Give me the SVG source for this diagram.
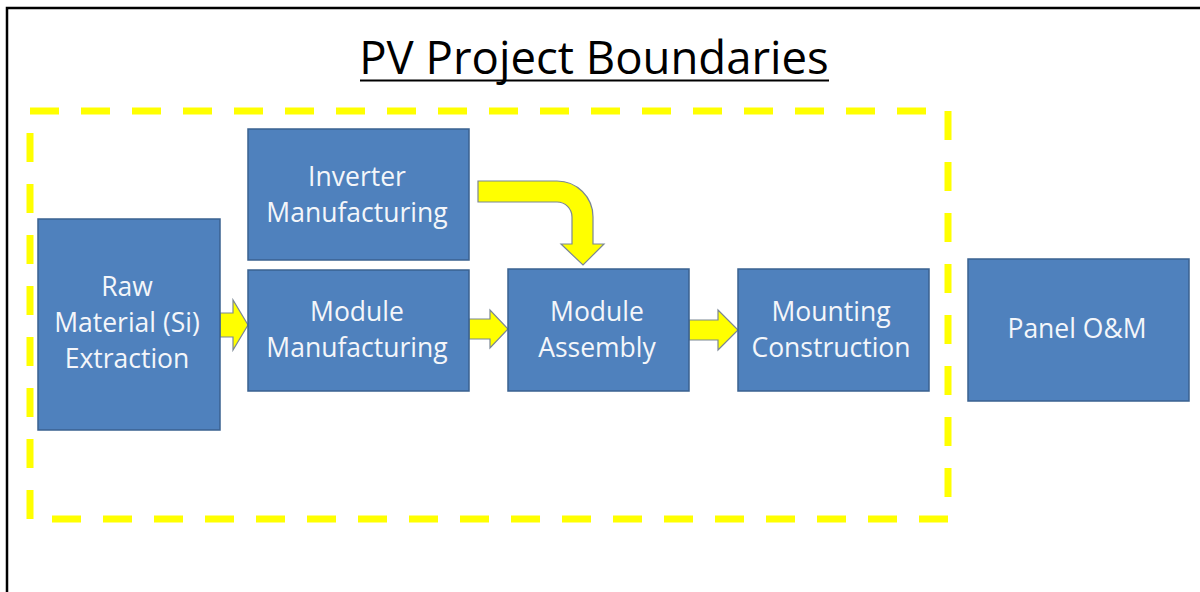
<svg xmlns="http://www.w3.org/2000/svg" width="1200" height="592" viewBox="0 0 1200 592">
  <defs>
    <style>
      .box { fill: #4F81BD; stroke: #3A6190; stroke-width: 1.5; }
      .lbl { font-family: "Open Sans", "Liberation Sans", sans-serif; font-size: 26.5px; fill: #F4F6FA; text-anchor: middle; }
      .arrow { fill: #FFFF00; stroke: #7B8794; stroke-width: 1.2; stroke-linejoin: miter; }
      .title { font-family: "Open Sans", "Liberation Sans", sans-serif; font-size: 45.5px; fill: #000; text-anchor: middle; }
    </style>
  </defs>

  <!-- page background and frame -->
  <rect x="0" y="0" width="1200" height="592" fill="#FFFFFF"/>
  <path d="M7,592 V8 H1200" fill="none" stroke="#000" stroke-width="2.5"/>

  <!-- title -->
  <g id="title">
    <text class="title" x="594" y="74">PV Project Boundaries</text>
    <line x1="360" y1="80.5" x2="829" y2="80.5" stroke="#000" stroke-width="2"/>
  </g>

  <!-- project boundary -->
  <rect id="boundary" x="30" y="111" width="918" height="408" fill="none" stroke="#FFFF00" stroke-width="7" stroke-dasharray="29 22"/>

  <!-- connectors -->
  <g id="connectors">
    <!-- Raw Material -> Module Manufacturing -->
    <path class="arrow" d="M220,313 H233 V300 L248,325 L233,350 V337 H220 Z"/>
    <!-- Module Manufacturing -> Module Assembly -->
    <path class="arrow" d="M469,319 H490 V310 L508,329 L490,348 V339 H469 Z"/>
    <!-- Module Assembly -> Mounting Construction -->
    <path class="arrow" d="M689,320 H718 V310 L738,330 L718,350 V340 H689 Z"/>
    <!-- Inverter Manufacturing -> Module Assembly (bent) -->
    <path class="arrow" d="M478,181 H557 A36,36 0 0 1 593,217 V244 H604 L583,265 L561,244 H572 V217 A15,15 0 0 0 557,202 H478 Z"/>
  </g>

  <!-- nodes -->
  <g id="raw-material">
    <rect class="box" x="38" y="219" width="182" height="211"/>
    <text class="lbl" x="127" y="296">Raw</text>
    <text class="lbl" x="127" y="332">Material (Si)</text>
    <text class="lbl" x="127" y="368">Extraction</text>
  </g>

  <g id="inverter-manufacturing">
    <rect class="box" x="248" y="129" width="221" height="131"/>
    <text class="lbl" x="357" y="186">Inverter</text>
    <text class="lbl" x="357" y="222">Manufacturing</text>
  </g>

  <g id="module-manufacturing">
    <rect class="box" x="248" y="270" width="221" height="121"/>
    <text class="lbl" x="357" y="321">Module</text>
    <text class="lbl" x="357" y="357">Manufacturing</text>
  </g>

  <g id="module-assembly">
    <rect class="box" x="508" y="269" width="181" height="122"/>
    <text class="lbl" x="597" y="321">Module</text>
    <text class="lbl" x="597" y="357">Assembly</text>
  </g>

  <g id="mounting-construction">
    <rect class="box" x="738" y="269" width="191" height="122"/>
    <text class="lbl" x="831" y="321">Mounting</text>
    <text class="lbl" x="831" y="357">Construction</text>
  </g>

  <g id="panel-om">
    <rect class="box" x="968" y="259" width="221" height="142"/>
    <text class="lbl" x="1077" y="338">Panel O&amp;M</text>
  </g>
</svg>
